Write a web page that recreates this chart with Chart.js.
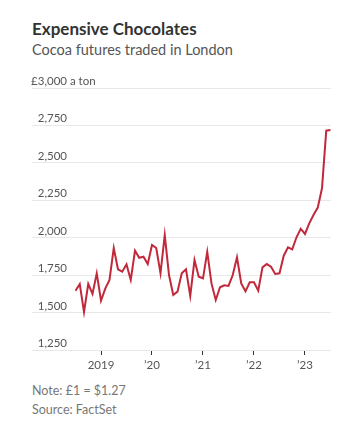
<!DOCTYPE html>
<html>
<head>
<meta charset="utf-8">
<script src="https://cdn.jsdelivr.net/npm/chart.js@4"></script>
<style>
  html, body { margin: 0; padding: 0; background: #fff; }
  body { width: 359px; height: 434px; position: relative; overflow: hidden; font-family: Lato, sans-serif; }
  .txt { position: absolute; left: 32px; white-space: nowrap; }
  #title { top: 20px; font-size: 17px; line-height: 17px; font-weight: 700; color: #333; }
  #subtitle { top: 42px; font-size: 14.5px; line-height: 15px; color: #555; }
  #note { top: 385px; font-size: 12.5px; line-height: 12.5px; color: #777; }
  #source { top: 404px; font-size: 12.5px; line-height: 12.5px; color: #777; }
  #wrap { position: absolute; left: 0; top: 60px; width: 359px; height: 320px; }
</style>
</head>
<body>
<div class="txt" id="title">Expensive Chocolates</div>
<div class="txt" id="subtitle">Cocoa futures traded in London</div>
<div id="wrap"><canvas id="cocoaChart"></canvas></div>
<div class="txt" id="note">Note: £1 = $1.27</div>
<div class="txt" id="source">Source: FactSet</div>
<script>
const months = [
    '2018-07', '2018-08', '2018-09', '2018-10', '2018-11', '2018-12',
    '2019-01', '2019-02', '2019-03', '2019-04', '2019-05', '2019-06',
    '2019-07', '2019-08', '2019-09', '2019-10', '2019-11', '2019-12',
    '2020-01', '2020-02', '2020-03', '2020-04', '2020-05', '2020-06',
    '2020-07', '2020-08', '2020-09', '2020-10', '2020-11', '2020-12',
    '2021-01', '2021-02', '2021-03', '2021-04', '2021-05', '2021-06',
    '2021-07', '2021-08', '2021-09', '2021-10', '2021-11', '2021-12',
    '2022-01', '2022-02', '2022-03', '2022-04', '2022-05', '2022-06',
    '2022-07', '2022-08', '2022-09', '2022-10', '2022-11', '2022-12',
    '2023-01', '2023-02', '2023-03', '2023-04', '2023-05', '2023-06',
    '2023-07'
];

// £ per ton
const prices = [
    1646, 1691, 1504, 1691, 1624, 1762,
    1579, 1660, 1718, 1931, 1789, 1773,
    1822, 1718, 1913, 1866, 1873, 1824,
    1951, 1931, 1762, 2018, 1751, 1617,
    1640, 1762, 1789, 1611, 1851, 1740,
    1729, 1905, 1695, 1584, 1669, 1682,
    1678, 1751, 1869, 1695, 1642, 1702,
    1702, 1646, 1802, 1824, 1806, 1758,
    1762, 1880, 1936, 1922, 2003, 2060,
    2025, 2096, 2152, 2201, 2330, 2715,
    2720
];

const yearTicks = [2019, 2020, 2021, 2022, 2023];
const priceTicks = [1250, 1500, 1750, 2000, 2250, 2500, 2750, 3000];

const points = months.map((m, i) => {
    const [yr, mo] = m.split('-').map(Number);
    return { x: yr + (mo - 1) / 12, y: prices[i] };
});

// y labels sit above their gridlines, right-aligned
const yLabels = {
    id: 'yLabels',
    afterDraw(chart) {
        const ctx = chart.ctx;
        const y = chart.scales.y;
        ctx.save();
        ctx.font = '11.5px Lato';
        ctx.fillStyle = '#555';
        ctx.textBaseline = 'alphabetic';
        priceTicks.forEach(v => {
            const py = y.getPixelForValue(v) - 3;
            const txt = v.toLocaleString('en-US');
            ctx.textAlign = 'right';
            if (v === 3000) {
                ctx.fillText('£' + txt, 67, py);
                ctx.textAlign = 'left';
                ctx.fillText(' a ton', 67, py);
            } else {
                ctx.fillText(txt, 67, py);
            }
        });
        ctx.restore();
    }
};

new Chart(document.getElementById('cocoaChart').getContext('2d'), {
    type: 'line',
    data: {
        datasets: [{
            data: points,
            borderColor: '#c1293b',
            borderWidth: 2,
            pointRadius: 0,
            tension: 0,
            clip: false
        }]
    },
    options: {
        responsive: true,
        maintainAspectRatio: false,
        animation: false,
        layout: { padding: { left: 32, right: 28, top: 28, bottom: 0 } },
        plugins: { legend: { display: false }, tooltip: { enabled: false } },
        scales: {
            x: {
                type: 'linear',
                min: 2017.647,
                max: 2023.51,
                afterBuildTicks: s => { s.ticks = yearTicks.map(v => ({ value: v })); },
                afterFit: s => { s.height = 30; },
                grid: { drawOnChartArea: false, drawTicks: true, tickLength: 5, tickColor: '#333', tickWidth: 1 },
                border: { display: false },
                ticks: {
                    font: { family: 'Lato', size: 11.5 },
                    color: '#555',
                    padding: 3,
                    maxRotation: 0,
                    callback: v => v === 2019 ? '2019' : '\u2019' + String(v).slice(2)
                }
            },
            y: {
                min: 1250,
                max: 3000,
                afterBuildTicks: s => { s.ticks = priceTicks.map(v => ({ value: v })); },
                afterFit: s => { s.width = 0; },
                grid: { color: '#e8e8e8', lineWidth: 1, drawTicks: false },
                border: { display: false },
                ticks: { display: false }
            }
        }
    },
    plugins: [yLabels]
});
</script>
</body>
</html>
